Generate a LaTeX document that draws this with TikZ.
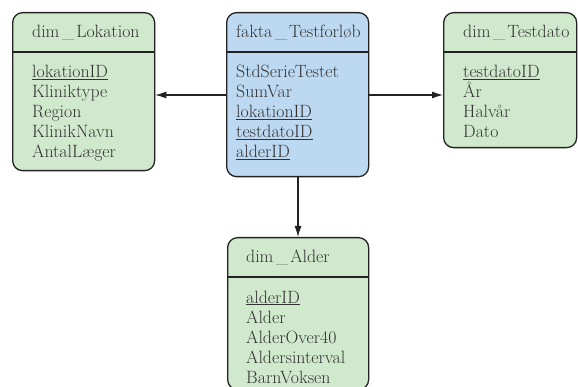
\documentclass[tikz,border=0pt]{standalone}
\usetikzlibrary{arrows.meta}
\definecolor{dimgreen}{RGB}{208,232,204}
\definecolor{factblue}{RGB}{189,217,241}
\definecolor{inkgray}{RGB}{51,51,51}
\definecolor{linegray}{RGB}{34,34,34}
% spaced underscore used in the table names
\newcommand{\usc}{\kern0.15em\_\kern0.1em}
\begin{document}
\begin{tikzpicture}[x=1pt,y=-1pt,
  entity/.style={draw=linegray, line width=1.3pt, rounded corners=10pt,
    inner sep=0pt, anchor=north west},
  dimbox/.style={entity, fill=dimgreen},
  factbox/.style={entity, fill=factblue},
  divider/.style={draw=linegray, line width=1.3pt},
  field/.style={inner sep=0pt, anchor=base west, text=inkgray,
    font=\fontsize{17.8}{20}\selectfont},
  link/.style={draw=linegray, line width=1.1pt,
    -{Latex[length=11pt,width=7pt]}}]
\useasboundingbox (0,0) rectangle (578,387);

% entity boxes
\node[dimbox, minimum width=142pt, minimum height=158pt] (lok) at (12,12) {};
\node[factbox, minimum width=142pt, minimum height=164pt] (fakta) at (226,12) {};
\node[dimbox, minimum width=133pt, minimum height=135pt] (dato) at (443,12) {};
\node[dimbox, minimum width=141pt, minimum height=152pt] (alder) at (227,237) {};

% header dividers
\draw[divider] (lok.west |- 0,52) -- (lok.east |- 0,52);
\draw[divider] (fakta.west |- 0,52) -- (fakta.east |- 0,52);
\draw[divider] (dato.west |- 0,52) -- (dato.east |- 0,52);
\draw[divider] (alder.west |- 0,277) -- (alder.east |- 0,277);

% dim_Lokation
\node[field] (lokH) at (32,38) {dim\usc Lokation};
\node[field] (lok1) at (32,78) {\underline{lokationID}};
\node[field] (lok2) at (32,98) {Kliniktype};
\node[field] (lok3) at (32,118) {Region};
\node[field] (lok4) at (32,138) {KlinikNavn};
\node[field] (lok5) at (32,158) {AntalLæger};

% fakta_Testforløb
\node[field] (faktaH) at (236,38) {fakta\usc Testforløb};
\node[field] (fakta1) at (236,78) {StdSerieTestet};
\node[field] (fakta2) at (236,98) {SumVar};
\node[field] (fakta3) at (236,118) {\underline{lokationID}};
\node[field] (fakta4) at (236,138) {\underline{testdatoID}};
\node[field] (fakta5) at (236,158) {\underline{alderID}};

% dim_Testdato
\node[field] (datoH) at (463,38) {dim\usc Testdato};
\node[field] (dato1) at (463,78) {\underline{testdatoID}};
\node[field] (dato2) at (463,98) {År};
\node[field] (dato3) at (463,118) {Halvår};
\node[field] (dato4) at (463,138) {Dato};

% dim_Alder
\node[field] (alderH) at (246,263) {dim\usc Alder};
\node[field] (alder1) at (246,303) {\underline{alderID}};
\node[field] (alder2) at (246,323) {Alder};
\node[field] (alder3) at (246,343) {AlderOver40};
\node[field] (alder4) at (246,363) {Aldersinterval};
\node[field] (alder5) at (246,383) {BarnVoksen};

% references from the fact table to its dimensions
\draw[link] (fakta.west |- 0,95) -- (lok.east |- 0,95);
\draw[link] (fakta.east |- 0,95) -- (dato.west |- 0,95);
\draw[link] (fakta.south -| 298,0) -- (alder.north -| 298,0);
\end{tikzpicture}
\end{document}
